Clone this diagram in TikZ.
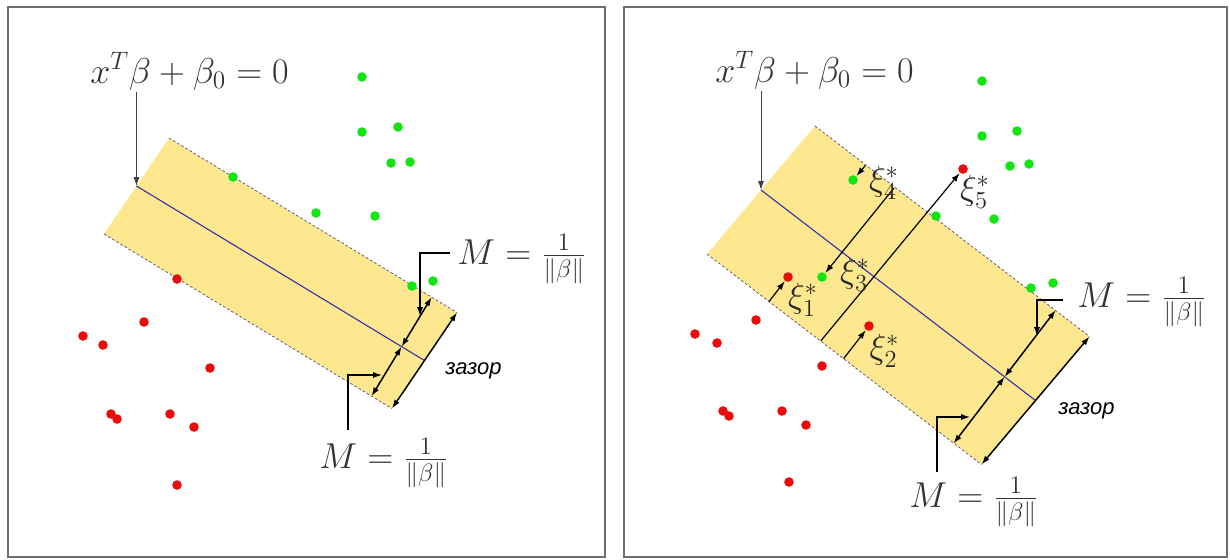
\RequirePackage{fix-cm}
\documentclass[tikz,border=0pt]{standalone}
\usepackage{fontspec}
\usetikzlibrary{arrows.meta}
\newfontfamily\zazorfont{Liberation Sans}
\definecolor{bandfill}{RGB}{253,231,143}
\definecolor{hypblue}{RGB}{55,45,170}
\definecolor{dotgreen}{RGB}{20,228,20}
\definecolor{dotred}{RGB}{232,12,12}
\definecolor{margindash}{RGB}{80,70,120}
\definecolor{framegray}{RGB}{110,110,110}

\begin{document}
\begin{tikzpicture}[x=0.5pt, y=-0.5pt, >={Latex[length=4.4pt,width=3pt]},
      panel/.style={draw=framegray, line width=0.8pt},
      band/.style={fill=bandfill, draw=none},
      margin/.style={draw=margindash, line width=0.35pt, dash pattern=on 1.3pt off 1.1pt},
      hyp/.style={draw=hypblue, line width=0.55pt},
      gdot/.style={circle, fill=dotgreen, inner sep=0pt, minimum size=4.8pt},
      rdot/.style={circle, fill=dotred, inner sep=0pt, minimum size=4.8pt},
      eq/.style={text=black!80, inner sep=1pt, font=\fontsize{18}{22}\selectfont},
      xilbl/.style={text=black!85, inner sep=0pt, font=\fontsize{17.5}{20}\selectfont},
      gap/.style={inner sep=0pt, font=\zazorfont\itshape\fontsize{11}{13}\selectfont},
      pointer/.style={->, draw=black!75, line width=0.5pt},
      flow/.style={->, line width=0.6pt},
      both/.style={<->, line width=0.75pt}]
    \useasboundingbox (0,0) rectangle (1230,559);

    % hard margin
    \draw[panel] (8,7) rectangle (605,557);
    \coordinate (lu1) at (169,138);   \coordinate (lu2) at (457,312.5);
    \coordinate (ll1) at (104,234);   \coordinate (ll2) at (392,408.5);
    \coordinate (lc1) at (136.5,186); \coordinate (lc2) at (424.5,360.5);
    \coordinate (lmu) at (431.6,297.2); \coordinate (lmc) at (401.6,346.7); \coordinate (lml) at (371.6,396.2);
    \fill[band] (lu1) -- (lu2) -- (ll2) -- (ll1) -- cycle;
    \draw[margin] (lu1) -- (lu2);
    \draw[margin] (ll1) -- (ll2);
    \draw[hyp] (lc1) -- (lc2);
    \foreach \px/\py [count=\i] in {233/177,316/213,375/216,362/77,362/132,398/127,391/163,410/162,412/286,433/281}
      \node[gdot] (lg\i) at (\px,\py) {};
    \foreach \px/\py [count=\i] in {177/279,144/322,83/336,103/345,210/368,111/414,117/419,170/414,194/427,177/485}
      \node[rdot] (lr\i) at (\px,\py) {};

    \node[eq, anchor=base] (lhyp) at (189.5,83) {$x^T\beta+\beta_0=0$};
    \draw[pointer] (lhyp.south -| lc1) -- (lc1);
    \draw[both] (ll2) -- (lu2);
    \draw[both] (lml) -- (lmc);
    \draw[both] (lmc) -- (lmu);
    \node[eq, anchor=west] (lmtop) at (455,259) {$M=\frac{1}{\|\beta\|}$};
    \coordinate (lla) at (450,253); \coordinate (ltipa) at (420,316);
    \draw[flow] (lla) -| (ltipa);
    \node[eq] (lmbot) at (384,463) {$M=\frac{1}{\|\beta\|}$};
    \coordinate (llb) at (348,430); \coordinate (ltipb) at (382,375);
    \draw[flow] (llb) |- (ltipb);
    \node[gap, anchor=base west] (lgap) at (445,374) {зазор};

    % soft margin
    \draw[panel] (624,7) rectangle (1227,557);
    \coordinate (ru1) at (815,126);   \coordinate (ru2) at (1089.5,336.5);
    \coordinate (rl1) at (707,254);   \coordinate (rl2) at (981.5,464.5);
    \coordinate (rc1) at (761,190);   \coordinate (rc2) at (1035.5,400.5);
    \coordinate (rmu) at (1055.7,310.1); \coordinate (rmc) at (1004.6,376.8); \coordinate (rml) at (953.5,443.5);
    \fill[band] (ru1) -- (ru2) -- (rl2) -- (rl1) -- cycle;
    \draw[margin] (ru1) -- (ru2);
    \draw[margin] (rl1) -- (rl2);
    \draw[hyp] (rc1) -- (rc2);
    \foreach \px/\py [count=\i] in {982/81,982/136,1017/131,1010/166,1029/164,936/216,994/219,1031/288,1053/283}
      \node[gdot] (rg\i) at (\px,\py) {};
    \foreach \px/\py [count=\i] in {756/320,695/334,717/343,822/366,723/411,729/416,782/411,806/425,789/482}
      \node[rdot] (rr\i) at (\px,\py) {};
    \node[rdot] (xr1) at (788,277) {};
    \node[rdot] (xr2) at (869,326) {};
    \node[gdot] (xg3) at (822,277) {};
    \node[gdot] (xg4) at (853,180) {};
    \node[rdot] (xr5) at (963,169) {};

    \coordinate (xb1) at (769,301.5);
    \coordinate (xb2) at (843.7,358.5);
    \coordinate (xb3) at (894,188);
    \coordinate (xb4) at (865.3,165.5);
    \coordinate (xb5) at (821,340.6);
    \draw[flow] (xb1) -- (xr1);
    \draw[flow] (xb2) -- (xr2);
    \draw[flow] (xb3) -- (xg3);
    \draw[flow] (xb4) -- (xg4);
    \draw[flow] (xb5) -- (xr5);
    \node[xilbl] (xi1) at (803,300) {$\xi^*_1$};
    \node[xilbl] (xi2) at (884.5,351) {$\xi^*_2$};
    \node[xilbl] (xi3) at (855,275) {$\xi^*_3$};
    \node[xilbl] (xi4) at (884,183) {$\xi^*_4$};
    \node[xilbl] (xi5) at (975,192) {$\xi^*_5$};

    \node[eq, anchor=base] (rhyp) at (814.5,82) {$x^T\beta+\beta_0=0$};
    \draw[pointer] (rhyp.south -| rc1) -- (rc1);
    \draw[both] (rl2) -- (ru2);
    \draw[both] (rml) -- (rmc);
    \draw[both] (rmc) -- (rmu);
    \node[eq, anchor=west] (rmtop) at (1075,302) {$M=\frac{1}{\|\beta\|}$};
    \coordinate (rla) at (1063,300); \coordinate (rtipa) at (1037,336);
    \draw[flow] (rla) -| (rtipa);
    \node[eq] (rmbot) at (974,502) {$M=\frac{1}{\|\beta\|}$};
    \coordinate (rlb) at (937,472); \coordinate (rtipb) at (970,417);
    \draw[flow] (rlb) |- (rtipb);
    \node[gap, anchor=base west] (rgap) at (1058,414) {зазор};
  \end{tikzpicture}
\end{document}
